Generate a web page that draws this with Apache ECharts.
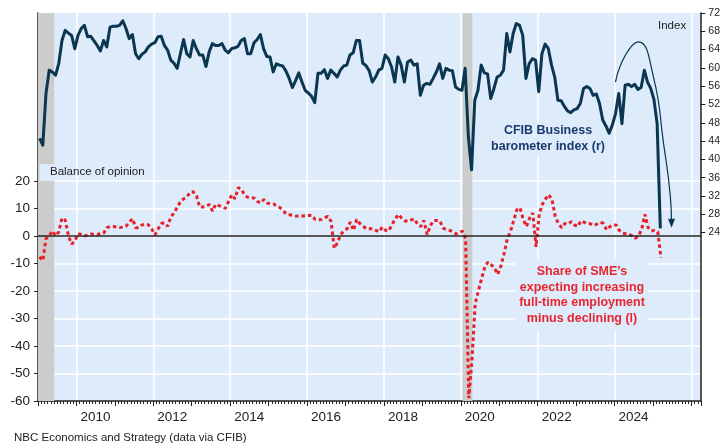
<!DOCTYPE html>
<html>
<head>
<meta charset="utf-8">
<script src="https://cdn.jsdelivr.net/npm/echarts@6/dist/echarts.min.js"></script>
<style>
  html, body { margin: 0; padding: 0; background: #fff; }
  #chart { width: 723px; height: 448px; }
</style>
</head>
<body>
<div id="chart"></div>
<script>
// monthly data, first value = Jan 2009
const startYear = 2009

// CFIB Business barometer, long-term index (right axis)
const barometer = [
  44.6, 43.1, 54.4, 59.5, 59.1, 58.4, 61.0, 66.0, 68.2, 67.6, 67.1, 64.2, // 2009
  67.1, 68.6, 69.3, 66.8, 66.9, 65.9, 64.9, 63.7, 66.0, 64.6, 68.9, 69.1, // 2010
  69.1, 69.3, 70.3, 68.6, 66.4, 67.3, 63.1, 62.0, 63.0, 63.5, 64.6, 65.2, // 2011
  65.5, 66.8, 66.9, 64.9, 63.9, 61.7, 61.0, 59.9, 63.1, 66.2, 63.1, 62.4, // 2012
  66.0, 64.2, 62.8, 62.8, 60.3, 63.5, 65.3, 64.9, 64.9, 65.3, 63.9, 63.3, // 2013
  64.2, 64.4, 64.7, 66.0, 66.4, 63.1, 63.1, 65.5, 66.2, 67.3, 64.2, 62.5, // 2014
  62.4, 59.1, 60.9, 60.6, 60.4, 59.3, 57.7, 55.7, 57.2, 58.9, 56.9, 55.1, // 2015
  54.5, 53.8, 52.4, 58.8, 58.8, 59.6, 57.7, 59.5, 58.8, 58.0, 59.5, 60.4, // 2016
  60.6, 62.8, 63.3, 66.0, 66.0, 61.0, 60.5, 59.4, 56.9, 58.0, 59.5, 59.9, // 2017
  62.8, 62.0, 60.2, 56.9, 62.4, 60.6, 56.9, 61.3, 61.7, 60.6, 60.9, 54.0, // 2018
  56.2, 56.6, 56.4, 57.7, 59.1, 60.9, 57.7, 59.9, 59.5, 59.4, 55.8, 55.3, // 2019
  55.1, 59.9, 45.0, 37.7, 52.9, 55.1, 60.6, 58.9, 58.7, 53.3, 55.5, 58.0, // 2020
  58.4, 59.5, 67.5, 63.5, 67.5, 69.7, 69.3, 67.1, 57.7, 60.9, 62.0, 61.7, // 2021
  54.8, 63.1, 65.2, 64.2, 60.6, 58.0, 52.9, 52.8, 51.6, 50.6, 50.2, 50.8, // 2022
  51.1, 52.2, 55.5, 55.9, 55.5, 54.0, 54.3, 52.2, 48.6, 47.3, 45.7, 47.5, // 2023
  50.0, 54.4, 47.8, 56.2, 56.4, 55.9, 56.4, 55.3, 55.7, 59.5, 56.9, 55.5, // 2024
  53.1, 47.8, 24.9                                                        // 2025
]

// share of SMEs expecting increasing full-time employment minus declining (left axis)
const hiring = [
  -7.6, -9.0, -1.0, 0.0, 1.8, 0.0, 1.5, 6.5, 5.8, 0.0, -3.0, -1.8,        // 2009
  0.8, 0.5, 0.0, 0.3, 0.7, 0.5, 0.5, 0.8, 1.0, 3.0, 3.4, 3.4,             // 2010
  3.2, 3.0, 3.2, 3.5, 5.0, 6.3, 3.0, 3.0, 4.0, 4.3, 4.0, 2.5,             // 2011
  0.4, 2.5, 4.5, 4.8, 3.5, 7.0, 8.3, 10.5, 12.5, 13.5, 14.1, 15.9,        // 2012
  16.0, 14.5, 10.5, 10.5, 10.8, 11.4, 9.0, 11.5, 11.0, 10.5, 10.0, 12.5,  // 2013
  15.0, 13.5, 17.5, 17.0, 14.8, 14.0, 13.8, 13.8, 12.5, 12.0, 13.2, 12.0, // 2014
  11.6, 11.6, 11.0, 10.3, 9.3, 7.9, 7.7, 7.5, 7.2, 7.1, 7.2, 7.3,         // 2015
  7.4, 7.5, 6.0, 5.7, 6.0, 6.6, 7.1, 5.3, -4.5, -2.5, 0.5, 1.8,           // 2016
  2.6, 5.0, 2.0, 6.0, 4.5, 3.5, 2.6, 2.6, 2.6, 2.0, 1.5, 3.2,             // 2017
  2.0, 1.8, 4.0, 6.1, 7.8, 6.5, 5.5, 5.3, 5.8, 6.2, 4.2, 3.4,             // 2018
  5.6, 0.5, 3.7, 5.6, 5.6, 5.4, 2.8, 2.3, 2.0, 1.5, 0.7, 1.2,             // 2019
  1.7, -1.0, -59.0, -45.0, -24.5, -20.0, -15.5, -11.3, -9.5, -10.5, -11.5, -14.0, // 2020
  -11.0, -6.5, -1.2, 1.6, 5.5, 9.5, 10.2, 6.0, 3.4, 6.5, 8.3, -4.0,       // 2021
  8.0, 11.5, 13.5, 15.0, 13.0, 7.1, 4.4, 3.0, 4.5, 4.3, 5.2, 4.0,         // 2022
  3.4, 5.5, 5.0, 4.4, 4.4, 3.8, 4.3, 4.9, 4.6, 2.2, 3.3, 4.0,             // 2023
  4.0, 2.0, 1.0, 0.8, 0.6, 0.0, -0.9, 0.0, 2.5, 7.8, 3.0, 1.8,            // 2024
  2.0, 1.5, -8.0                                                          // 2025
]

// recessions (decimal years), shaded grey
const recessions = [[2008.75, 2009.42], [2020.05, 2020.30]]

// hand-drawn "rise and fall" arrow over the barometer, in [year, index] units
const trendArrow = [[2024.04, 56.9], [2024.30, 62.8], [2024.64, 65.7], [2025.03, 58.0], [2025.29, 43.6], [2025.47, 31.8], [2025.50, 26.0]]

const yearLabels = [2010, 2012, 2014, 2016, 2018, 2020, 2022, 2024]
const xMin = 2009, xMax = 2026.25

const FONT = 'Liberation Sans, Arial, sans-serif'
const AXIS = '#222'
const NAVY = '#0B3652'
const RED = '#E8202A'
const PLOT_BG = '#DDEBFB'

const monthX = i => startYear + (i + 0.5) / 12

const chart = echarts.init(document.getElementById('chart'))

const option = {
  animation: false,
  textStyle: { fontFamily: FONT },
  grid: [
    { left: 38, right: 22, top: 13, bottom: 47, show: true, backgroundColor: PLOT_BG, borderWidth: 0 },
    { left: 38, right: 22, top: 13, bottom: 215.5 },
    { left: 38, right: 22, top: 180.9, bottom: 47 }
  ],
  xAxis: [
    {
      gridIndex: 0, type: 'value', min: xMin, max: xMax, interval: 1,
      axisLine: { onZero: false, lineStyle: { color: AXIS, width: 1.5 } },
      axisTick: { show: true, length: 5, lineStyle: { color: AXIS } },
      minorTick: { show: true, splitNumber: 12, length: 3, lineStyle: { color: AXIS } },
      axisLabel: {
        formatter: v => yearLabels.includes(v) ? String(v) : '',
        padding: [0, 0, 0, 38], fontSize: 13.5, color: AXIS, margin: 9
      },
      splitLine: { show: true, lineStyle: { color: ['rgba(0,0,0,0)', '#ffffff'], width: 1.5 } }
    },
    { gridIndex: 1, type: 'value', min: xMin, max: xMax, show: false },
    { gridIndex: 2, type: 'value', min: xMin, max: xMax, show: false }
  ],
  yAxis: [
    {
      gridIndex: 0, type: 'value', min: -60, max: 81,
      axisLine: { show: true, lineStyle: { color: AXIS, width: 1.5 } },
      axisTick: { show: false }, axisLabel: { show: false }, splitLine: { show: false }
    },
    {
      gridIndex: 0, type: 'value', position: 'right', min: -60, max: 81,
      axisLine: { show: true, lineStyle: { color: AXIS, width: 1.5 } },
      axisTick: { show: false }, axisLabel: { show: false }, splitLine: { show: false }
    },
    {
      gridIndex: 1, type: 'value', position: 'right', min: 24, max: 72, interval: 4,
      axisLine: { show: false },
      axisTick: { show: true, length: 5, lineStyle: { color: AXIS } },
      axisLabel: { fontSize: 10.5, color: AXIS, margin: 8 },
      splitLine: { show: false }
    },
    {
      gridIndex: 2, type: 'value', min: -60, max: 20, interval: 10,
      axisLine: { show: false },
      axisTick: { show: true, length: 4, lineStyle: { color: AXIS } },
      axisLabel: { fontSize: 13.5, color: AXIS, margin: 8 },
      splitLine: { show: true, lineStyle: { color: '#ffffff', width: 1.5 } }
    }
  ],
  series: [
    {
      name: 'hiring', type: 'line', xAxisIndex: 0, yAxisIndex: 0, z: 3,
      data: hiring.map((v, i) => [monthX(i), v]),
      showSymbol: false,
      lineStyle: { color: RED, width: 3, type: [3.5, 3], cap: 'butt' },
      markArea: {
        silent: true,
        itemStyle: { color: '#CCCCCC' },
        data: recessions.map(r => [{ xAxis: Math.max(r[0], xMin) }, { xAxis: r[1] }])
      },
      markLine: {
        silent: true, symbol: ['none', 'none'], label: { show: false },
        lineStyle: { color: AXIS, width: 1.5, type: 'solid' },
        data: [{ yAxis: 0 }]
      }
    },
    {
      name: 'barometer', type: 'line', xAxisIndex: 1, yAxisIndex: 2, z: 4,
      data: barometer.map((v, i) => [monthX(i), v]),
      showSymbol: false, clip: false,
      lineStyle: { color: NAVY, width: 3, join: 'round' }
    },
    {
      name: 'arrow', type: 'line', xAxisIndex: 1, yAxisIndex: 2, z: 4,
      smooth: 0.5, symbol: 'none', showSymbol: true, clip: false,
      lineStyle: { color: NAVY, width: 1.2 },
      itemStyle: { color: NAVY },
      data: trendArrow.map((p, i) => i === trendArrow.length - 1
        ? { value: p, symbol: 'triangle', symbolSize: [7, 9], symbolRotate: 180 }
        : { value: p })
    }
  ],
  graphic: [
    // label box masks the recession shading behind the text start
    { type: 'rect', z: 2, shape: { x: 39.5, y: 164, width: 16, height: 17 }, style: { fill: PLOT_BG } },
    { type: 'text', left: 50, top: 166, z: 2, style: { text: 'Balance of opinion', font: '11.5px ' + FONT, fill: '#222' } },
    { type: 'text', left: 658, top: 20, z: 2, style: { text: 'Index', font: '11.5px ' + FONT, fill: '#222' } },
    {
      type: 'text', x: 548, y: 139, z: 2,
      style: {
        text: 'CFIB Business\nbarometer index (r)', align: 'center', verticalAlign: 'middle',
        font: 'bold 12.5px ' + FONT, lineHeight: 16, fill: '#1B3A6E',
        backgroundColor: PLOT_BG, padding: [1, 3]
      }
    },
    {
      type: 'text', x: 582, y: 295, z: 2,
      style: {
        text: 'Share of SME\u2019s\nexpecting increasing\nfull-time employment\nminus declining (l)',
        align: 'center', verticalAlign: 'middle',
        font: 'bold 12.5px ' + FONT, lineHeight: 15.5, fill: '#E8262F',
        backgroundColor: PLOT_BG, padding: [5, 4]
      }
    },
    { type: 'text', left: 14, top: 432, style: { text: 'NBC Economics and Strategy (data via CFIB)', font: '11.5px ' + FONT, fill: '#222' } }
  ]
}

chart.setOption(option)
</script>
</body>
</html>
